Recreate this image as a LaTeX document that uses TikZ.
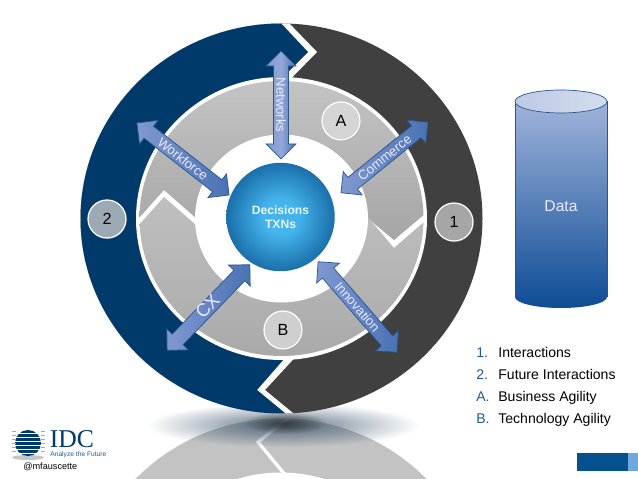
\documentclass[tikz,border=0pt]{standalone}
\usepackage{fontspec}
\setmainfont{Liberation Sans}
\newfontfamily\logofont{Liberation Serif}
\usepackage{tikz}
\usetikzlibrary{shapes.arrows, shadows, fadings}
\definecolor{ringdark}{HTML}{404040}
\definecolor{ringblue}{HTML}{003A6B}
\definecolor{arrline}{HTML}{2A5590}
\definecolor{arrlight}{HTML}{8099D0}
\definecolor{arrmid}{HTML}{4A72B4}
\definecolor{listblue}{HTML}{1F5A8C}
\definecolor{smoke}{HTML}{3F5870}
\definecolor{ballin}{HTML}{45B4EC}
\definecolor{ballout}{HTML}{1A6FAA}
\definecolor{drumtop}{HTML}{A0B3DA}
\definecolor{drumlow}{HTML}{0E4C96}
\definecolor{barlight}{HTML}{6DA9DC}
\definecolor{bardark}{HTML}{05508F}
\pgfdeclareradialshading{ballblue}{\pgfpoint{0bp}{0bp}}{%
  color(0bp)=(ballin); color(8bp)=(ballin); color(25bp)=(ballout); color(50bp)=(ballout)}
\tikzfading[name=blob, inner color=transparent!15, outer color=transparent!100]
\begin{document}
\begin{tikzpicture}[
  x=0.02cm, y=-0.02cm,
  darr/.style={double arrow, draw=arrline, thin, double arrow tip angle=90,
               double arrow head extend=0.15cm, minimum width=0.56cm,
               inner xsep=0pt, inner ysep=1.4pt, text height=5.4pt, text depth=0pt,
               left color=arrlight, right color=arrmid, text=white!92!blue,
               font=\fontsize{7.5}{9}\selectfont},
  tag/.style={draw=white, line width=0.7pt, circle, minimum size=0.76cm, inner sep=0pt,
              drop shadow={shadow xshift=0.4pt, shadow yshift=-0.6pt, opacity=0.45},
              font=\fontsize{9.2}{11}\selectfont},
  item/.style={anchor=west, inner sep=0pt, text height=6pt, text depth=1.7pt,
               font=\fontsize{8}{9.5}\selectfont},
  num/.style={item, text=listblue}
]
\useasboundingbox (0,0) rectangle (638,479);
% Reflection under the ring
\begin{scope}
  \clip (0,0) rectangle (638,479);
  \shade[top color=gray!48, bottom color=gray!40] (281,613.5) ellipse [x radius=201, y radius=195];
  \draw[white, line width=1.9pt, line join=miter] (296,412) -- (258,442) -- (291,482);
  \fill[white] (281,613.5) ellipse [x radius=145, y radius=141];
\end{scope}
\fill[smoke, path fading=blob] (283,425) ellipse [x radius=136, y radius=22];
\fill[black!80, path fading=blob] (285,423) ellipse [x radius=42, y radius=11];
% Outer ring
\fill[ringdark] (281.5,218.5) ellipse [x radius=201, y radius=195];
\begin{scope}
  \clip (281.5,218.5) ellipse [x radius=201, y radius=195];
  \fill[white] (286,20) -- (317,52) -- (270,100) -- (300,352) -- (265,390) -- (310,427) -- (0,427) -- (0,20) -- cycle;
  \fill[ringblue] (278,20) -- (308,52) -- (270,90) -- (291,351) -- (257,390) -- (302,427) -- (0,427) -- (0,20) -- cycle;
\end{scope}
% Inner ring
\fill[white] (281.5,218.5) ellipse [x radius=145.5, y radius=141.5];
\begin{scope}
  \clip (281.5,218.5) ellipse [x radius=142, y radius=137.5];
  \shade[top color=gray!45, bottom color=gray!70]
    (130,228) -- (164,190) -- (205,226) -- (360,212) -- (394,240) -- (432,208) -- (432,70) -- (130,70) -- cycle;
  \shade[top color=gray!50, bottom color=gray!68]
    (130,235) -- (164,197) -- (205,233) -- (360,208) -- (394,248) -- (432,215) -- (432,365) -- (130,365) -- cycle;
\end{scope}
\fill[white] (281.5,218.5) ellipse [x radius=86.5, y radius=84];
% Centre
\node[circle, minimum size=2.17cm, inner sep=0pt, shading=ballblue, align=center,
      text=white!90!cyan, font=\fontsize{6.9}{8}\selectfont\bfseries] (decide) at (280.5,217) {Decisions\\TXNs};
% Links
\node[darr, minimum height=2.16cm, rotate=-90, middle color=arrlight!85!white] (networks) at (281,105) {Networks};
\node[darr, minimum height=2.34cm, rotate=-38] (workforce) at (183,159) {Workforce};
\node[darr, minimum height=2.24cm, rotate=39] (commerce) at (384.5,157.5) {Commerce};
\node[darr, minimum height=2.38cm, rotate=46, font=\fontsize{10.4}{12}\selectfont] (cx) at (208.5,307.5) {CX};
\node[darr, minimum height=2.40cm, rotate=-49] (innovation) at (357.5,307) {Innovation};
% Tags
\node[tag, fill={rgb,255:red,157;green,170;blue,182}] (two) at (107,219) {2};
\node[tag, fill=gray!70] (one) at (454,222) {1};
\node[tag, fill=gray!33] (taga) at (341,121) {A};
\node[tag, fill=gray!38] (tagb) at (283,330) {B};
% Data store
\shade[top color=drumtop, bottom color=drumlow]
  (515,101.5) -- (515,297) arc [start angle=180, end angle=0, x radius=46, y radius=11]
  -- (607,101.5) -- cycle;
\draw[arrline, thin] (515,297) -- (515,101.5) (607,101.5) -- (607,297);
\draw[arrline, thin, left color=drumtop!70!white, right color=drumtop!45!white]
  (561,101.5) ellipse [x radius=46, y radius=11.5];
\node[text=white!92!blue, font=\fontsize{8.9}{10}\selectfont] (data) at (561,206) {Data};
% Legend
\node[num] (n1) at (476,353.5) {1.};
\node[num] (n2) at (476,375.5) {2.};
\node[num] (na) at (476,397.5) {A.};
\node[num] (nb) at (476,419.5) {B.};
\node[item] (t1) at (498,353.5) {Interactions};
\node[item] (t2) at (498,375.5) {Future Interactions};
\node[item] (ta) at (498,397.5) {Business Agility};
\node[item] (tb) at (498,419.5) {Technology Agility};
% Corner bar
\fill[bardark] (577,453) rectangle (628,471);
\fill[barlight] (628,453) rectangle (638,471);
% Logo
\fill[gray!45] (28,457.5) ellipse [x radius=16, y radius=2.5];
\fill[ringblue] (28,443) circle [radius=13];
\foreach \yy in {433,437,441,445,449,453}
  \draw[white, line width=0.4pt] (14,\yy) -- (42,\yy);
\foreach \yy in {431,435,439,443,447,451}
  \draw[gray!70, line width=0.35pt] (12,\yy) -- (16,\yy) (41,\yy) -- (45,\yy);
\node[anchor=west, inner sep=0pt, text=ringblue, font=\fontsize{14.6}{16}\logofont] (idc) at (49.5,439.5) {IDC};
\node[anchor=west, inner sep=0pt, text=listblue, font=\fontsize{3.8}{5}\selectfont] (tagline) at (50,455) {Analyze the Future};
\node[anchor=west, inner sep=0pt, font=\fontsize{5.2}{6}\selectfont] (handle) at (23,467) {@mfauscette};
\end{tikzpicture}
\end{document}
